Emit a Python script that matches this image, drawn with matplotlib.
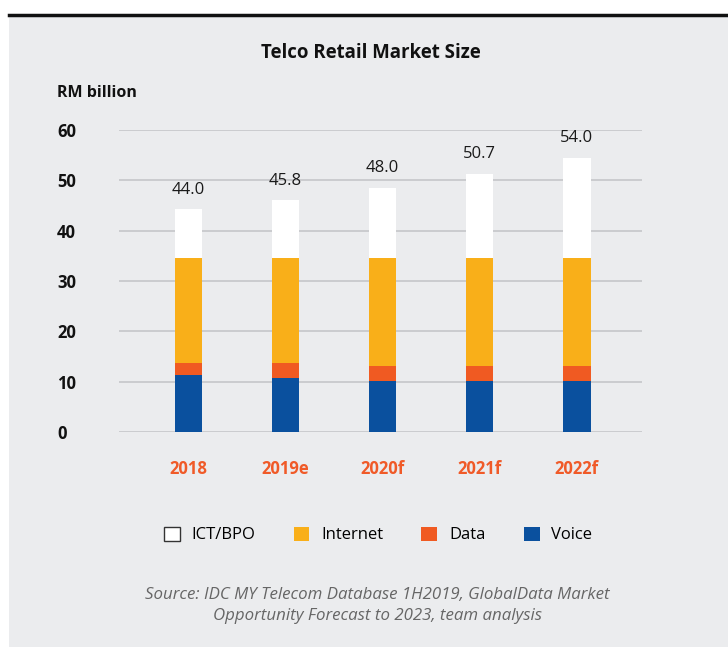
import matplotlib
matplotlib.use("Agg")
import matplotlib.pyplot as plt
import numpy as np

years = ["2018", "2019e", "2020f", "2021f", "2022f"]
voice = [11.3, 10.8, 10.1, 10.1, 10.1]
data_ = [2.4, 2.9, 3.0, 3.0, 3.0]
internet = [20.9, 20.9, 21.5, 21.5, 21.5]
ict_bpo = [9.7, 11.5, 13.9, 16.7, 19.9]
totals = ["44.0", "45.8", "48.0", "50.7", "54.0"]
yticks = [0, 10, 20, 30, 40, 50, 60]

BG = "#EBECEE"
C_ICT = "#FFFFFF"
C_INT = "#F9AF19"
C_DATA = "#F05A22"
C_VOICE = "#0A509E"
C_TICK = "#F05A28"

plt.rcParams['font.family'] = ['Open Sans', 'DejaVu Sans']

fig = plt.figure(figsize=(7.28, 6.47), dpi=100)
fig.patch.set_facecolor("white")

# grey panel and top rule
bgax = fig.add_axes([9/728, 0, 1 - 9/728, 1 - 15/647])
bgax.set_facecolor(BG)
bgax.set_xticks([])
bgax.set_yticks([])
for s in bgax.spines.values():
    s.set_visible(False)
bgax.set_zorder(-1)
fig.add_artist(plt.Line2D([9/728, 1], [1 - 15/647, 1 - 15/647], color="#111111", lw=2.5,
                          transform=fig.transFigure))

ax = fig.add_axes([119/728, 1 - 432/647, (642 - 119)/728, (432 - 130)/647])
ax.set_facecolor("none")
ax.set_zorder(2)

x = np.arange(len(years))
w = 0.28
b1 = ax.bar(x, voice, w, color=C_VOICE, zorder=3, label="Voice")
bottom = np.array(voice)
b2 = ax.bar(x, data_, w, bottom=bottom, color=C_DATA, zorder=3, label="Data")
bottom = bottom + np.array(data_)
b3 = ax.bar(x, internet, w, bottom=bottom, color=C_INT, zorder=3, label="Internet")
bottom = bottom + np.array(internet)
b4 = ax.bar(x, ict_bpo, w, bottom=bottom, color=C_ICT, zorder=3, label="ICT/BPO")
bottom = bottom + np.array(ict_bpo)

for xi, top, lab in zip(x, bottom, totals):
    ax.annotate(lab, (xi, top), xytext=(0, 14), textcoords="offset points",
                ha="center", va="center", fontsize=12, color="#1a1a1a")

ax.set_xlim(-0.716, 4.67)
ax.set_ylim(0, 60)
ax.set_yticks(yticks)
ax.set_yticklabels([str(t) for t in yticks], fontsize=12, fontweight="bold",
                   color="#111111", ha="left")
ax.tick_params(axis="y", length=0, pad=44.6)
ax.set_xticks(x)
ax.set_xticklabels(years, fontsize=12, fontweight="bold", color=C_TICK)
ax.tick_params(axis="x", length=0, pad=20)
ax.yaxis.grid(True, color="#C8C9CC", lw=1.3, zorder=0)
ax.set_axisbelow(True)
for s in ax.spines.values():
    s.set_visible(False)

fig.text(371/728, 1 - 53/647, "Telco Retail Market Size", ha="center", va="center",
         fontsize=13.4, fontweight="bold", color="#111111")
fig.text(57/728, 1 - 93/647, "RM billion", ha="left", va="center",
         fontsize=11.5, fontweight="bold", color="#111111")

handles = [b4, b3, b2, b1]
leg = fig.legend(handles=handles, labels=["ICT/BPO", "Internet", "Data", "Voice"],
                 loc="center", bbox_to_anchor=(378/728, 1 - 535/647), ncol=4, frameon=False,
                 fontsize=12, handlelength=0.95, handleheight=0.95, handletextpad=0.7,
                 columnspacing=2.3)
leg.legend_handles[0].set_edgecolor("#333333")
leg.legend_handles[0].set_linewidth(1.0)

fig.text(377/728, 1 - 595/647, "Source: IDC MY Telecom Database 1H2019, GlobalData Market",
         ha="center", va="center", fontsize=12.2, style="italic", color="#666666")
fig.text(377/728, 1 - 616/647, "Opportunity Forecast to 2023, team analysis",
         ha="center", va="center", fontsize=12.2, style="italic", color="#666666")

fig.savefig("out.png", dpi=100, facecolor=fig.get_facecolor())
